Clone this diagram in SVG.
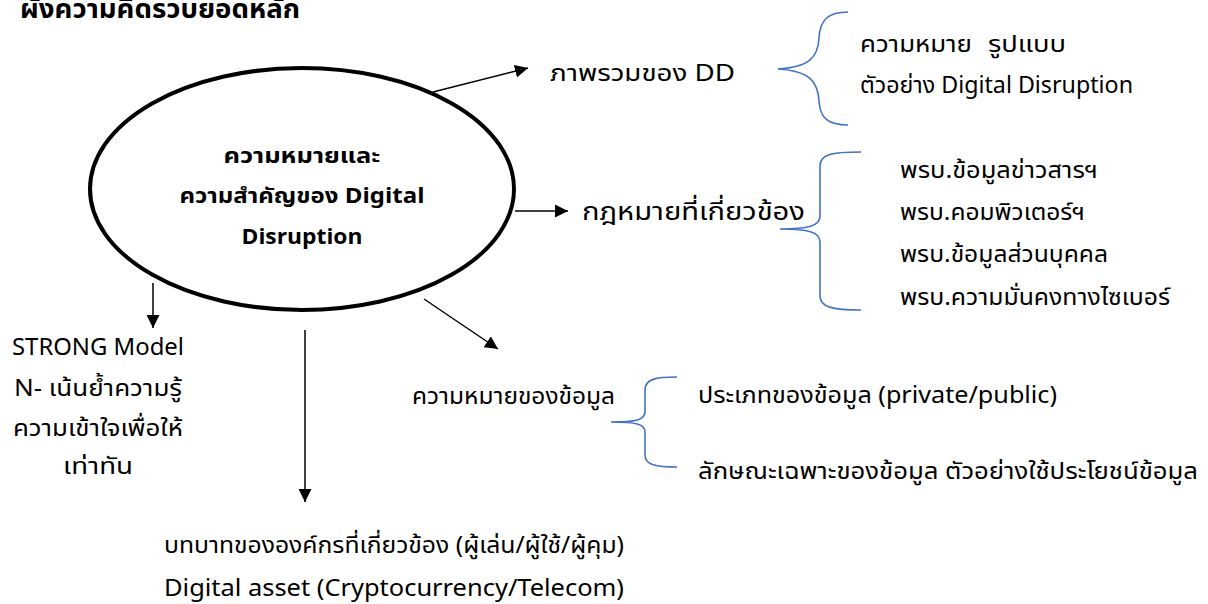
<svg xmlns="http://www.w3.org/2000/svg" width="1208" height="604" viewBox="0 0 1208 604">
<style>
  text { font-family: "Noto Sans Thai", "Leelawadee UI", Tahoma, "Noto Sans", "DejaVu Sans", sans-serif; fill: #000; }
  .t { font-size: 23px; }
  .b { font-size: 22px; font-weight: bold; }
  .title { font-size: 26px; font-weight: bold; }
  .c { text-anchor: middle; }
  .line { stroke: #000; stroke-width: 1.5; fill: none; }
  .brace { stroke: #4472C4; stroke-width: 1.6; fill: none; }
</style>
<defs>
  <marker id="ah" viewBox="0 0 10 10" refX="10" refY="5" markerWidth="13" markerHeight="13" markerUnits="userSpaceOnUse" orient="auto">
    <path d="M0,0 L10,5 L0,10 Z" fill="#000"/>
  </marker>
</defs>
<text class="title" x="20" y="18" textLength="280" lengthAdjust="spacingAndGlyphs">ผังความคิดรวบยอดหลัก</text>
<g id="center">
  <ellipse cx="302" cy="189" rx="212" ry="121" fill="#fff" stroke="#000" stroke-width="4"/>
  <text class="b c" x="302" y="163" textLength="157" lengthAdjust="spacingAndGlyphs">ความหมายและ</text>
  <text class="b c" x="302" y="203" textLength="245" lengthAdjust="spacingAndGlyphs">ความสำคัญของ Digital</text>
  <text class="b c" x="302" y="244" textLength="121" lengthAdjust="spacingAndGlyphs">Disruption</text>
</g>
<g id="connectors">
  <line class="line" x1="433" y1="92" x2="528" y2="68" marker-end="url(#ah)"/>
  <line class="line" x1="515" y1="211" x2="568" y2="211" marker-end="url(#ah)"/>
  <line class="line" x1="424" y1="299" x2="498" y2="349" marker-end="url(#ah)"/>
  <line class="line" x1="153" y1="283" x2="153" y2="328" marker-end="url(#ah)"/>
  <line class="line" x1="305" y1="330" x2="305" y2="502" marker-end="url(#ah)"/>
</g>
<g id="overview">
  <text class="t" x="550" y="81" textLength="185" lengthAdjust="spacingAndGlyphs">ภาพรวมของ DD</text>
  <path class="brace" d="M848,12 C828,12 820,20 819,38 C818,57 810,67 778,69 C810,71 818,82 819,101 C820,118 828,125 848,125"/>
  <text class="t" x="860" y="52"><tspan textLength="112" lengthAdjust="spacingAndGlyphs">ความหมาย</tspan><tspan x="988" textLength="78" lengthAdjust="spacingAndGlyphs">รูปแบบ</tspan></text>
  <text class="t" x="860" y="93" textLength="273" lengthAdjust="spacingAndGlyphs">ตัวอย่าง Digital Disruption</text>
</g>
<g id="law">
  <text class="t" x="582" y="220" style="font-size:25px" textLength="223" lengthAdjust="spacingAndGlyphs">กฎหมายที่เกี่ยวข้อง</text>
  <path class="brace" d="M861,152 C832,152 820,154 820,166 L820,216 C820,226 808,229 780,229 C808,229 820,232 820,242 L820,296 C820,307 832,310 861,310"/>
  <text class="t" x="900" y="178" textLength="198" lengthAdjust="spacingAndGlyphs">พรบ.ข้อมูลข่าวสารฯ</text>
  <text class="t" x="900" y="220" textLength="185" lengthAdjust="spacingAndGlyphs">พรบ.คอมพิวเตอร์ฯ</text>
  <text class="t" x="900" y="262" textLength="208" lengthAdjust="spacingAndGlyphs">พรบ.ข้อมูลส่วนบุคคล</text>
  <text class="t" x="900" y="305" textLength="270" lengthAdjust="spacingAndGlyphs">พรบ.ความมั่นคงทางไซเบอร์</text>
</g>
<g id="data">
  <text class="t" x="412" y="404" textLength="203" lengthAdjust="spacingAndGlyphs">ความหมายของข้อมูล</text>
  <path class="brace" d="M677,377 C656,377 645,379 645,390 L645,412 C645,420 636,422 611,422 C636,422 645,424 645,432 L645,455 C645,465 656,467 677,467"/>
  <text class="t" x="698" y="403" textLength="359" lengthAdjust="spacingAndGlyphs">ประเภทของข้อมูล (private/public)</text>
  <text class="t" x="698" y="479" textLength="500" lengthAdjust="spacingAndGlyphs">ลักษณะเฉพาะของข้อมูล ตัวอย่างใช้ประโยชน์ข้อมูล</text>
</g>
<g id="strong">
  <text class="t c" x="98" y="355" textLength="172" lengthAdjust="spacingAndGlyphs">STRONG Model</text>
  <text class="t c" x="98" y="396" textLength="168" lengthAdjust="spacingAndGlyphs">N- เน้นย้ำความรู้</text>
  <text class="t c" x="98" y="436" textLength="170" lengthAdjust="spacingAndGlyphs">ความเข้าใจเพื่อให้</text>
  <text class="t c" x="98" y="474" textLength="70" lengthAdjust="spacingAndGlyphs">เท่าทัน</text>
</g>
<g id="roles">
  <text class="t" x="164" y="553" textLength="460" lengthAdjust="spacingAndGlyphs">บทบาทขององค์กรที่เกี่ยวข้อง (ผู้เล่น/ผู้ใช้/ผู้คุม)</text>
  <text class="t" x="164" y="596" textLength="460" lengthAdjust="spacingAndGlyphs">Digital asset (Cryptocurrency/Telecom)</text>
</g>
</svg>
